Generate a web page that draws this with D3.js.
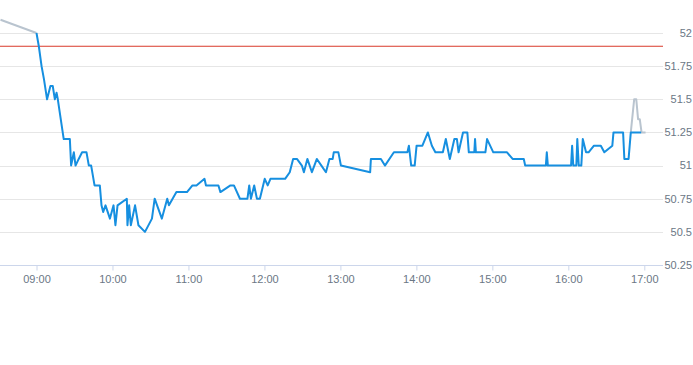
<!DOCTYPE html>
<html><head><meta charset="utf-8">
<script src="https://cdn.jsdelivr.net/npm/d3@7"></script>
<style>html,body{margin:0;padding:0;background:#fff;}svg{display:block;font-family:"Liberation Sans",Arial,sans-serif;}</style>
</head><body>
<svg id="c" width="693" height="365"></svg>
<script>
// Regular session prices
const sessionTimes = ["09:00:00","09:01:50","09:04:00","09:05:55","09:08:20","09:11:00","09:12:50","09:14:30","09:15:50","09:16:50",
"09:21:30","09:26:20","09:27:20","09:29:30","09:30:50","09:33:20","09:36:00","09:39:30","09:41:20","09:43:10",
"09:45:50","09:50:00","09:51:20","09:52:40","09:54:30","09:58:00","10:00:50","10:02:20","10:04:00","10:11:20",
"10:11:50","10:13:10","10:14:30","10:17:50","10:20:30","10:25:40","10:31:10","10:33:20","10:39:00","10:43:15",
"10:44:35","10:50:30","10:58:50","11:03:10","11:06:20","11:12:40","11:13:50","11:23:40","11:25:15","11:33:10",
"11:35:55","11:40:40","11:46:35","11:48:00","11:49:20","11:51:55","11:54:05","11:56:25","12:00:15","12:02:35",
"12:04:45","12:16:20","12:20:00","12:22:40","12:25:40","12:29:35","12:31:10","12:33:55","12:37:30","12:41:25",
"12:45:00","12:48:35","12:51:20","12:53:55","12:54:45","12:58:25","13:00:25","13:23:30","13:24:05","13:32:00",
"13:35:10","13:42:15","13:52:55","13:54:05","13:55:55","13:58:40","14:00:10","14:04:45","14:09:05","14:12:15",
"14:15:00","14:20:55","14:23:15","14:26:25","14:30:00","14:32:00","14:33:20","14:36:50","14:40:15","14:41:25",
"14:45:45","14:46:20","14:47:00","14:54:30","14:55:50","15:00:45","15:11:35","15:16:00","15:24:50","15:25:55",
"15:42:15","15:43:00","15:43:50","16:02:10","16:03:00","16:03:55","16:06:20","16:07:05","16:08:15","16:10:15",
"16:11:25","16:14:00","16:16:00","16:20:15","16:25:40","16:28:25","16:34:45","16:35:40","16:43:15","16:44:15",
"16:47:35","16:49:20","16:57:30"];
const sessionValues = [52.0,51.9,51.75,51.65,51.5,51.6,51.6,51.5,51.55,51.5,
51.2,51.2,51.0,51.1,51.0,51.05,51.1,51.1,51.0,51.0,
50.85,50.85,50.7,50.65,50.7,50.6,50.7,50.55,50.7,50.75,
50.55,50.7,50.55,50.7,50.55,50.5,50.6,50.75,50.6,50.75,
50.7,50.8,50.8,50.85,50.85,50.9,50.85,50.85,50.8,50.85,
50.85,50.75,50.75,50.85,50.75,50.85,50.75,50.75,50.9,50.85,
50.9,50.9,50.95,51.05,51.05,51.0,50.95,51.05,50.95,51.05,
51.0,50.95,51.05,51.05,51.1,51.1,51.0,50.95,51.05,51.05,
51.0,51.1,51.1,51.15,51.0,51.0,51.15,51.15,51.25,51.15,
51.1,51.1,51.2,51.05,51.2,51.2,51.1,51.25,51.25,51.1,
51.1,51.2,51.1,51.1,51.2,51.1,51.1,51.05,51.05,51.0,
51.0,51.1,51.0,51.0,51.15,51.0,51.0,51.2,51.0,51.0,
51.2,51.1,51.1,51.15,51.15,51.1,51.15,51.25,51.25,51.05,
51.05,51.25,51.25];
// Extended hours prices
const preTimes = ["08:31:35","09:00:00"];
const preValues = [52.1,52.0];
const postTimes = ["16:49:20","16:52:00","16:53:40","16:55:05","16:56:25","16:57:50","17:01:00"];
const postValues = [51.25,51.5,51.5,51.35,51.35,51.25,51.25];
// Reference level
const referenceLevel = 51.9;
// Axis ticks
const xTickLabels = ["09:00","10:00","11:00","12:00","13:00","14:00","15:00","16:00","17:00"];
const yTickValues = [50.25,50.5,50.75,51,51.25,51.5,51.75,52];

const parseT = d3.timeParse("%H:%M:%S");
const parseHM = d3.timeParse("%H:%M");
const svg = d3.select("#c");
const plotRight = 663;
const x = d3.scaleTime().domain([parseHM("09:00"), parseHM("17:00")]).range([36.5, 644.3]);
const y = d3.scaleLinear().domain([50.25, 52]).range([265, 33]);

svg.append("defs").append("clipPath").attr("id","clip")
  .append("rect").attr("x",0).attr("y",0).attr("width",plotRight).attr("height",265);

// gridlines
svg.append("g").selectAll("line").data(yTickValues.filter(v=>v!==50.25)).join("line")
  .attr("x1",0).attr("x2",plotRight)
  .attr("y1",d=>Math.round(y(d))+0.5).attr("y2",d=>Math.round(y(d))+0.5)
  .attr("stroke","#e6e6e6").attr("stroke-width",1);

// y labels
svg.append("g").selectAll("text").data(yTickValues).join("text")
  .attr("x",692).attr("y",d=>y(d)).attr("dy","0.35em")
  .attr("text-anchor","end").attr("fill","#6b7785").attr("font-size",11)
  .text(d=>d3.format("")(d));

// x axis
const xAxis = d3.axisBottom(x)
  .tickValues(xTickLabels.map(parseHM))
  .tickFormat(d3.timeFormat("%H:%M"))
  .tickSize(5).tickSizeOuter(0);
const gx = svg.append("g").attr("transform","translate(0,265.5)").call(xAxis);
gx.select(".domain").remove();
gx.append("line").attr("x1",0).attr("x2",plotRight).attr("y1",0).attr("y2",0).attr("stroke","#ccd6eb");
gx.selectAll(".tick line").attr("stroke","#ccd6eb");
gx.selectAll(".tick text").attr("fill","#6b7785").attr("font-size",11).attr("y",10)
  .attr("font-family","'Liberation Sans',Arial,sans-serif");

const plot = svg.append("g").attr("clip-path","url(#clip)");
const line = d3.line().x(d=>x(d[0])).y(d=>y(d[1]));

// reference line
plot.append("line").attr("x1",0).attr("x2",plotRight)
  .attr("y1",y(referenceLevel)).attr("y2",y(referenceLevel))
  .attr("stroke","#d93a2b").attr("stroke-width",1);

const pre = preTimes.map((t,i)=>[parseT(t),preValues[i]]);
const post = postTimes.map((t,i)=>[parseT(t),postValues[i]]);
const sess = sessionTimes.map((t,i)=>[parseT(t),sessionValues[i]]);

plot.append("path").datum(pre).attr("d",line).attr("fill","none")
  .attr("stroke","#b9c4cf").attr("stroke-width",2).attr("stroke-linejoin","round");
plot.append("path").datum(post).attr("d",line).attr("fill","none")
  .attr("stroke","#b9c4cf").attr("stroke-width",2).attr("stroke-linejoin","round");
plot.append("path").datum(sess).attr("d",line).attr("fill","none")
  .attr("stroke","#168fe0").attr("stroke-width",2).attr("stroke-linejoin","round");
</script>
</body></html>
